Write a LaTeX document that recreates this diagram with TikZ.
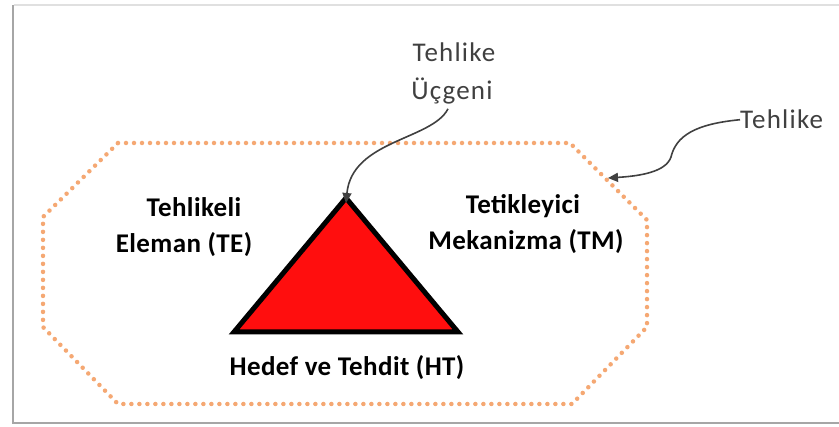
\documentclass[tikz,border=0pt]{standalone}
\usepackage{fontspec}
\setmainfont{Carlito}
\newfontfamily\boldface[LetterSpace=1.5]{Carlito}
\newfontfamily\grayface[LetterSpace=4.5]{Carlito}
\usetikzlibrary{arrows.meta}
\definecolor{dotorange}{RGB}{245,168,115}
\definecolor{labelgray}{RGB}{64,64,64}
\definecolor{hazardred}{RGB}{255,14,14}
\tikzset{
  boldlabel/.style={font=\boldface\fontsize{27}{32}\selectfont\bfseries, text=black, inner sep=0pt, anchor=base},
  graylabel/.style={font=\grayface\fontsize{27}{32}\selectfont, text=labelgray, inner sep=0pt},
  pointer/.style={draw=labelgray, line width=1.6pt, -{Triangle[length=10pt,width=9pt]}},
  zonebound/.style={draw=dotorange, line width=4.5pt, line cap=round, dash pattern=on 0pt off 8pt},
}
\begin{document}
\begin{tikzpicture}[x=1pt,y=-1pt]
\useasboundingbox (0,0) rectangle (839,427);
% frame with soft shadow
\fill[white] (0,0) rectangle (839,427);
\draw[black!12, line width=2pt] (14,5) -- (845,5);
\draw[black!35, line width=2.5pt] (13,5) -- (13,423) -- (845,423);
% dotted hazard boundary
\draw[zonebound] (118,143) -- (570,143) -- (647,220) -- (647,327) -- (572,404)
  -- (118,404) -- (43,327) -- (43,217) -- cycle;
% hazard triangle
\coordinate (apex) at (346,198);
\coordinate (bl) at (234,332);
\coordinate (br) at (458,332);
\draw[fill=hazardred, line width=5pt, line join=miter] (apex) -- (br) -- (bl) -- cycle;
% labels
\node[boldlabel] (te1) at (194,217) {Tehlikeli};
\node[boldlabel] (te2) at (184,253) {Eleman (TE)};
\node[boldlabel] (tm1) at (523,214) {Tetikleyici};
\node[boldlabel] (tm2) at (526,250) {Mekanizma (TM)};
\node[boldlabel] (ht) at (347,376) {Hedef ve Tehdit (HT)};
\node[graylabel, anchor=base] (tu1) at (454,62) {Tehlike};
\node[graylabel, anchor=base] (tu2) at (452,100) {Üçgeni};
\node[graylabel, anchor=base west] (th) at (740,129) {Tehlike};
\coordinate (ontop) at (608,178);
% pointers
\draw[pointer] ([xshift=-4pt,yshift=-4pt]tu2.south) .. controls (432,140) and (352,140) .. ([yshift=-5pt]apex);
\draw[pointer] (th.west) .. controls (695,124) and (676,136) .. (671,157)
  .. controls (666,172) and (640,176) .. (ontop);
\end{tikzpicture}
\end{document}
